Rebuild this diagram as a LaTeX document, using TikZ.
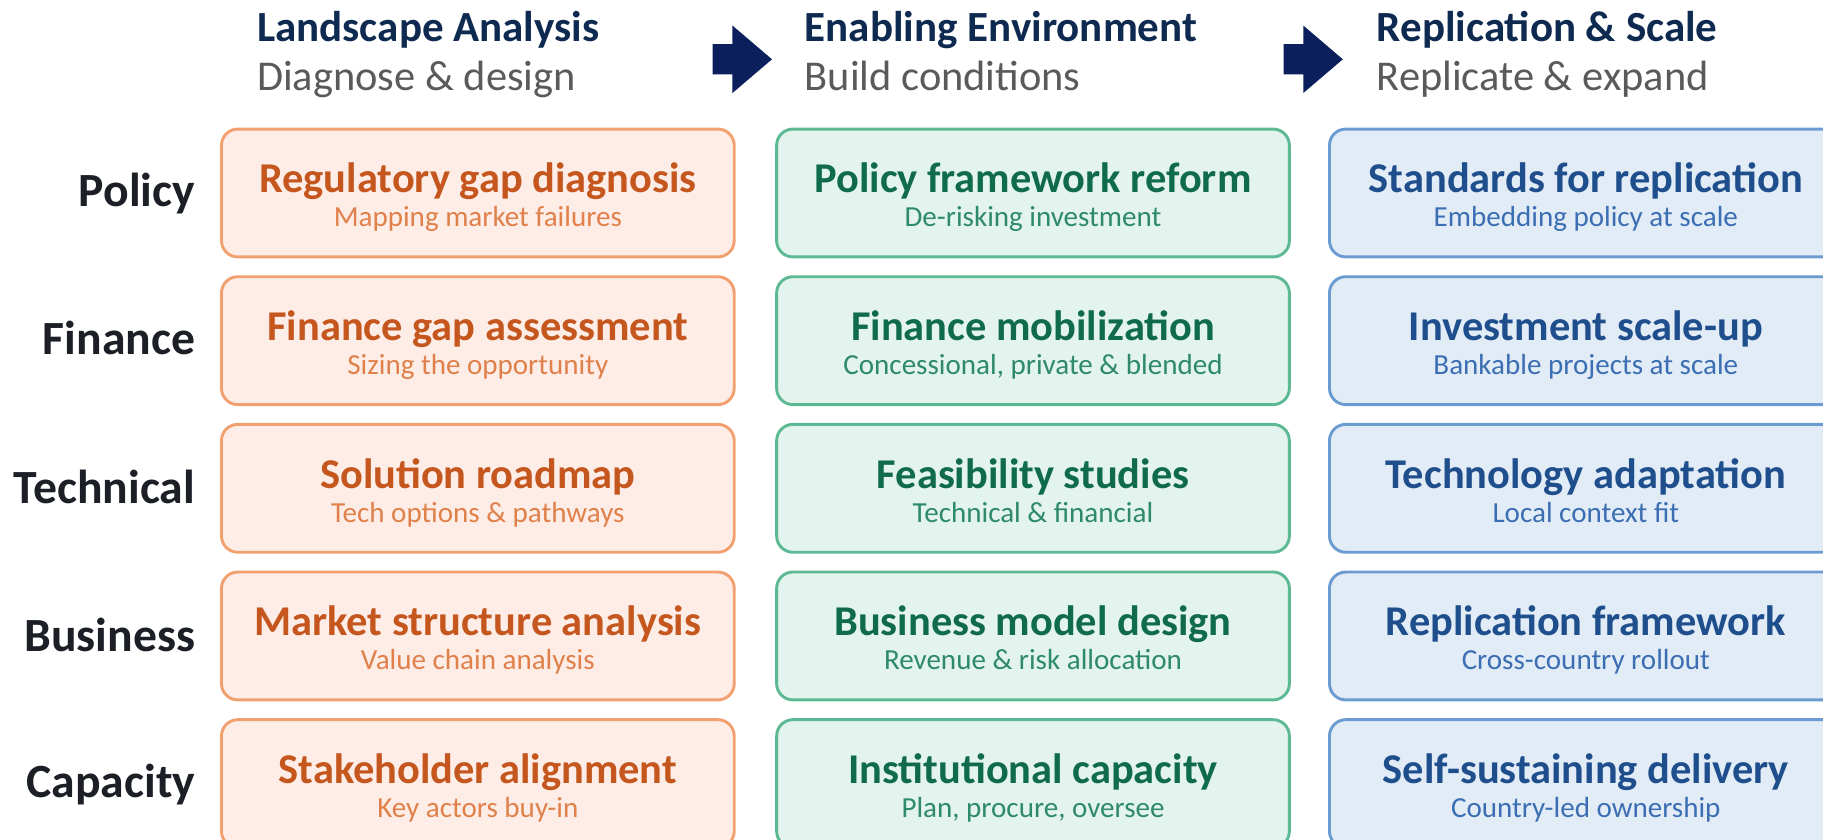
\documentclass[tikz,border=0pt]{standalone}
\usepackage{fontspec}
\setmainfont{Carlito}
\usetikzlibrary{positioning}

\definecolor{headc}{HTML}{0E2A50}
\definecolor{subheadc}{HTML}{5A5A5A}
\definecolor{arrowc}{HTML}{0A1F5C}
\definecolor{labelc}{HTML}{1C1F26}
\definecolor{orline}{HTML}{F2A070}
\definecolor{orfill}{HTML}{FDEDE6}
\definecolor{ortext}{HTML}{C4561E}
\definecolor{orsub}{HTML}{E0804A}
\definecolor{grline}{HTML}{5CB994}
\definecolor{grfill}{HTML}{E3F4EE}
\definecolor{grtext}{HTML}{0F6B4C}
\definecolor{grsub}{HTML}{2E8A68}
\definecolor{blline}{HTML}{6C9BD2}
\definecolor{blfill}{HTML}{E2ECF7}
\definecolor{bltext}{HTML}{1F4E8C}
\definecolor{blsub}{HTML}{3B6EB2}

\tikzset{
  cell/.style={rounded corners=14pt, line width=2.5pt, minimum width=441pt,
    minimum height=110pt, inner sep=0pt},
  orcell/.style={cell, draw=orline, fill=orfill},
  grcell/.style={cell, draw=grline, fill=grfill},
  blcell/.style={cell, draw=blline, fill=blfill},
  celltitle/.style={anchor=base, inner sep=0pt, font=\fontsize{36.5}{40}\selectfont\bfseries},
  cellsub/.style={anchor=base, inner sep=0pt, yshift=-29pt, font=\fontsize{25}{28}\selectfont},
  phase/.style={anchor=base west, inner sep=0pt, text=headc, font=\fontsize{37}{42}\selectfont\bfseries},
  phasesub/.style={anchor=base west, inner sep=0pt, text=subheadc, font=\fontsize{36.5}{40}\selectfont},
  rowlabel/.style={anchor=base east, inner sep=0pt, text=labelc, font=\fontsize{41}{44}\selectfont\bfseries}
}

\begin{document}
\begin{tikzpicture}[x=1pt,y=-1pt]
\useasboundingbox (0,0) rectangle (1568,722);
\clip (0,0) rectangle (1568,722);

% Phase headers
\node[phase] (ph1) at (221,36) {Landscape Analysis};
\node[phasesub] (ps1) at (221,78) {Diagnose \& design};
\node[phase] (ph2) at (692,36) {Enabling Environment};
\node[phasesub] (ps2) at (692,78) {Build conditions};
\node[phase] (ph3) at (1184,36) {Replication \& Scale};
\node[phasesub] (ps3) at (1184,78) {Replicate \& expand};

% Block arrows between phases
\fill[arrowc] (613,38) -- (630,38) -- (630,22) -- (664,51) -- (630,80) -- (630,64) -- (613,64) -- cycle;
\fill[arrowc] (1104,38) -- (1121,38) -- (1121,22) -- (1155,51) -- (1121,80) -- (1121,64) -- (1104,64) -- cycle;

% Row labels
\node[rowlabel] (lpol) at (168,178) {Policy};
\node[rowlabel] (lfin) at (168,305) {Finance};
\node[rowlabel] (ltec) at (168,433) {Technical};
\node[rowlabel] (lbus) at (168,560) {Business};
\node[rowlabel] (lcap) at (168,686) {Capacity};

% Landscape column
\node[orcell] (la1) at (411,166) {};
\node[celltitle, text=ortext] (la1t) at (la1.center) {Regulatory gap diagnosis};
\node[cellsub, text=orsub] (la1s) at (la1.center) {Mapping market failures};
\node[orcell] (la2) at (411,293) {};
\node[celltitle, text=ortext] (la2t) at (la2.center) {Finance gap assessment};
\node[cellsub, text=orsub] (la2s) at (la2.center) {Sizing the opportunity};
\node[orcell] (la3) at (411,420) {};
\node[celltitle, text=ortext] (la3t) at (la3.center) {Solution roadmap};
\node[cellsub, text=orsub] (la3s) at (la3.center) {Tech options \& pathways};
\node[orcell] (la4) at (411,547) {};
\node[celltitle, text=ortext] (la4t) at (la4.center) {Market structure analysis};
\node[cellsub, text=orsub] (la4s) at (la4.center) {Value chain analysis};
\node[orcell] (la5) at (411,674) {};
\node[celltitle, text=ortext] (la5t) at (la5.center) {Stakeholder alignment};
\node[cellsub, text=orsub] (la5s) at (la5.center) {Key actors buy-in};

% Enabling column
\node[grcell] (en1) at (888.5,166) {};
\node[celltitle, text=grtext] (en1t) at (en1.center) {Policy framework reform};
\node[cellsub, text=grsub] (en1s) at (en1.center) {De-risking investment};
\node[grcell] (en2) at (888.5,293) {};
\node[celltitle, text=grtext] (en2t) at (en2.center) {Finance mobilization};
\node[cellsub, text=grsub] (en2s) at (en2.center) {Concessional, private \& blended};
\node[grcell] (en3) at (888.5,420) {};
\node[celltitle, text=grtext] (en3t) at (en3.center) {Feasibility studies};
\node[cellsub, text=grsub] (en3s) at (en3.center) {Technical \& financial};
\node[grcell] (en4) at (888.5,547) {};
\node[celltitle, text=grtext] (en4t) at (en4.center) {Business model design};
\node[cellsub, text=grsub] (en4s) at (en4.center) {Revenue \& risk allocation};
\node[grcell] (en5) at (888.5,674) {};
\node[celltitle, text=grtext] (en5t) at (en5.center) {Institutional capacity};
\node[cellsub, text=grsub] (en5s) at (en5.center) {Plan, procure, oversee};

% Replication column
\node[blcell] (rs1) at (1364,166) {};
\node[celltitle, text=bltext] (rs1t) at (rs1.center) {Standards for replication};
\node[cellsub, text=blsub] (rs1s) at (rs1.center) {Embedding policy at scale};
\node[blcell] (rs2) at (1364,293) {};
\node[celltitle, text=bltext] (rs2t) at (rs2.center) {Investment scale-up};
\node[cellsub, text=blsub] (rs2s) at (rs2.center) {Bankable projects at scale};
\node[blcell] (rs3) at (1364,420) {};
\node[celltitle, text=bltext] (rs3t) at (rs3.center) {Technology adaptation};
\node[cellsub, text=blsub] (rs3s) at (rs3.center) {Local context fit};
\node[blcell] (rs4) at (1364,547) {};
\node[celltitle, text=bltext] (rs4t) at (rs4.center) {Replication framework};
\node[cellsub, text=blsub] (rs4s) at (rs4.center) {Cross-country rollout};
\node[blcell] (rs5) at (1364,674) {};
\node[celltitle, text=bltext] (rs5t) at (rs5.center) {Self-sustaining delivery};
\node[cellsub, text=blsub] (rs5s) at (rs5.center) {Country-led ownership};

\end{tikzpicture}
\end{document}
